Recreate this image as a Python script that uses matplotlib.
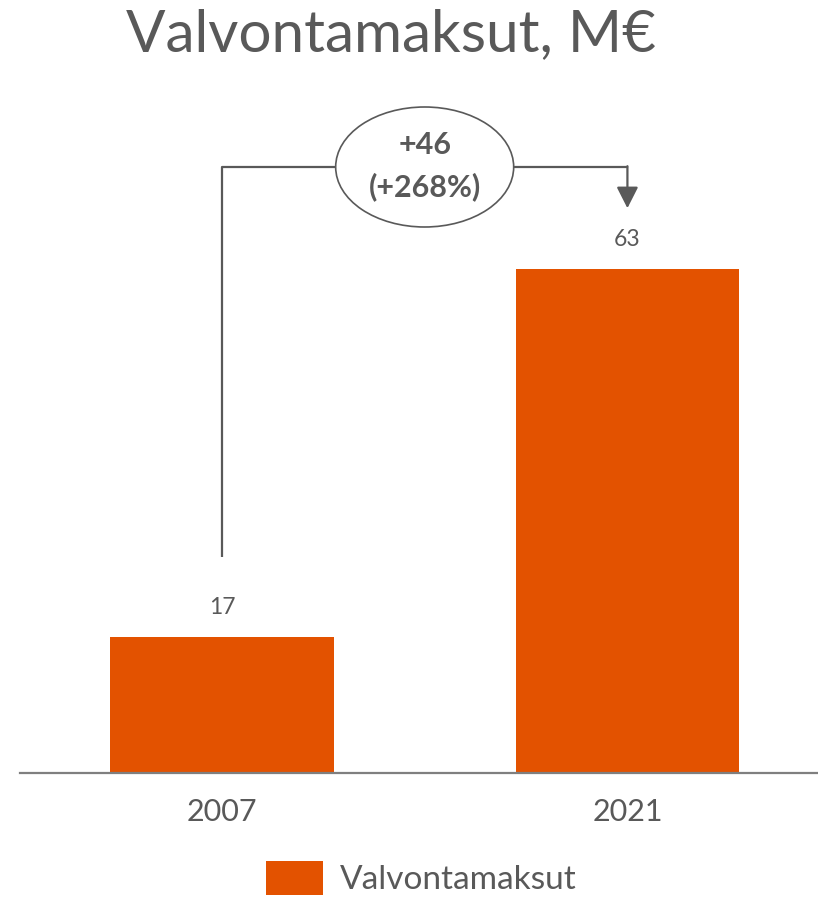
import matplotlib.pyplot as plt
from matplotlib.patches import Ellipse

years = ["2007", "2021"]
values = [17, 63]
series_name = "Valvontamaksut"
change_abs = "+46"
change_pct = "(+268%)"

bar_color = "#E35200"
text_color = "#595959"

plt.rcParams['font.family'] = ['Lato', 'DejaVu Sans']

fig = plt.figure(figsize=(8.18, 8.99), dpi=100)
ax = fig.add_axes([20 / 818, 126 / 899, 798 / 818, 673 / 899])

x = list(range(len(years)))
ax.bar(x, values, width=0.552, color=bar_color, label=series_name, zorder=2)

ax.set_xlim(-0.498, 1.470)
ax.set_ylim(0, 673 / 8)

for xi, v in zip(x, values):
    ax.text(xi, v + 2.4, str(v), ha='center', va='bottom', fontsize=16.5, color=text_color)

# bracket with change
top = max(values) + 12.75
ax.plot([x[0], x[0], 0.5 - 0.22], [values[0] + 10, top, top], color=text_color, lw=1.6, solid_capstyle='butt')
ax.plot([0.5 + 0.22, x[1]], [top, top], color=text_color, lw=1.6)
ax.annotate("", xy=(x[1], values[1] + 7.6), xytext=(x[1], top + 0.1),
            arrowprops=dict(arrowstyle='-|>,head_length=0.65,head_width=0.33', color=text_color, lw=1.6,
                            mutation_scale=20, shrinkA=0, shrinkB=0))
ax.add_patch(Ellipse((0.5, top), 0.439, 15, facecolor='white', edgecolor=text_color, lw=1.2, zorder=3))
ax.text(0.5, top + 2.7, change_abs, ha='center', va='center', fontsize=22, fontweight='bold', color=text_color, zorder=4)
ax.text(0.5, top - 2.5, change_pct, ha='center', va='center', fontsize=22, fontweight='bold', color=text_color, zorder=4)

for s in ['top', 'right', 'left']:
    ax.spines[s].set_visible(False)
ax.spines['bottom'].set_color('#7F7F7F')
ax.spines['bottom'].set_linewidth(1.6)
ax.set_yticks([])
ax.set_xticks(x)
ax.set_xticklabels(years, fontsize=22, color=text_color)
ax.tick_params(axis='x', length=0, pad=18)

fig.text(0.478, 1 - 35 / 899, "Valvontamaksut, M€", ha='center', va='center', fontsize=42, color=text_color)

fig.legend(loc='center', bbox_to_anchor=(0.515, 1 - 878 / 899), frameon=False,
           fontsize=24, handlelength=1.7, handleheight=1.2, handletextpad=0.5,
           borderpad=0, labelcolor=text_color)

fig.savefig("out.png", dpi=100)
